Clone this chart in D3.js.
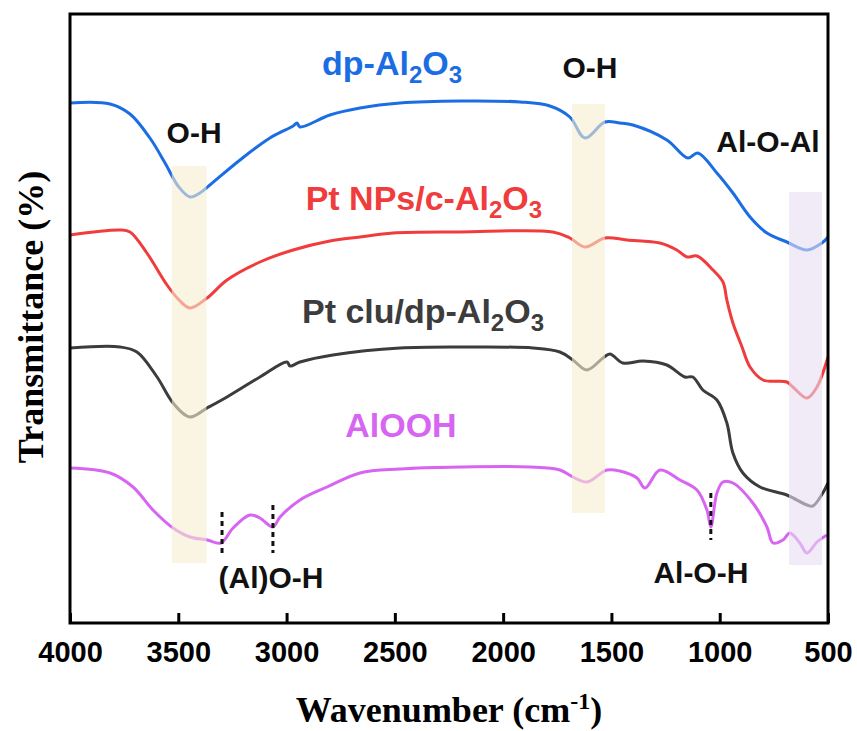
<!DOCTYPE html>
<html>
<head>
<meta charset="utf-8">
<script src="https://cdnjs.cloudflare.com/ajax/libs/d3/7.8.5/d3.min.js"></script>
<style>
  body { margin: 0; background: #fff; }
  svg { display: block; }
</style>
</head>
<body>
<svg id="chart" width="857" height="731"></svg>
<script>
// wavenumber (cm-1) and transmittance (a.u.)
var blueWn = [4000,3815,3723,3631,3561,3501,3446,3400,3354,3215,3077,2970,2952,2938,2800,2661,2476,2199,1922,1784,1692,1622,1530,1461,1401,1244,1147,1101,1013,939,860,782,690,597,528,500];
var blueT  = [52.0,51.9,50.9,48.5,46.0,43.7,42.6,43.0,43.8,46.3,48.5,49.7,50.0,49.6,50.8,51.5,52.0,52.2,52.1,51.7,50.6,48.5,50.1,50.0,49.8,48.3,46.5,47.0,45.0,43.0,40.6,39.0,38.1,37.3,38.0,38.6];

var redWn = [4000,3769,3723,3645,3552,3492,3446,3367,3275,3123,2970,2800,2661,2509,2199,1770,1692,1622,1530,1428,1276,1198,1151,1105,1031,985,967,939,897,860,800,690,662,597,551,500];
var redT  = [38.8,39.3,39.1,37.0,33.8,32.2,31.5,32.5,34.3,36.1,37.3,38.2,38.6,39.0,39.1,39.1,38.5,37.6,38.5,38.3,38.0,37.3,36.6,36.7,35.3,34.1,32.3,30.0,27.6,25.6,24.3,24.1,23.6,22.5,23.6,26.6];

var grayWn = [4000,3769,3691,3598,3524,3446,3367,3275,3123,2998,2984,2938,2786,2476,2167,1862,1738,1678,1613,1539,1507,1447,1354,1244,1161,1124,1078,1013,967,939,893,814,690,597,570,524,500];
var grayT  = [27.5,27.6,27.1,24.6,22.0,20.6,21.5,22.6,24.6,26.1,25.7,26.1,26.8,27.5,27.6,27.5,27.1,26.3,25.3,26.5,26.9,26.0,26.2,25.8,24.6,24.6,23.3,22.3,20.0,17.0,15.0,13.6,12.8,11.8,11.7,13.0,14.0];

var pinkWn = [4000,3815,3709,3617,3524,3446,3367,3303,3247,3169,3123,3063,3030,2938,2813,2661,2476,2199,1876,1738,1678,1613,1521,1461,1382,1345,1276,1184,1105,1059,1041,1013,985,939,847,782,754,708,676,630,597,551,505];
var pinkT  = [15.5,15.0,13.6,11.3,9.5,8.6,8.3,8.0,9.5,10.8,10.5,9.6,10.6,12.3,13.6,15.0,15.4,15.6,15.6,15.3,14.6,14.1,15.3,15.2,14.5,13.5,15.3,14.3,13.3,11.3,9.6,13.0,14.1,14.0,12.0,9.6,8.0,8.3,9.0,8.0,7.0,8.1,8.8];

var xTicks = [4000,3500,3000,2500,2000,1500,1000,500];

// highlighted bands
var bandFrom = [3530,1682,680];
var bandTo   = [3370,1530,528];
var bandTop  = [45.7,51.9,43.1];
var bandBot  = [6.0,11.0,5.8];
var bandKind = ["oh","oh","al"];

// dashed markers
var markWn  = [3298,3063,1041];
var markTop = [11.1,11.8,13.0];
var markBot = [6.6,7.0,8.3];

// annotations
var noteText = ["O-H","O-H","Al-O-Al","(Al)O-H","Al-O-H"];
var noteWn   = [3427,1599,777,3072,1087];
var noteT    = [48.0,54.5,47.1,3.5,4.0];

var seriesMain = ["dp-Al","Pt NPs/c-Al","Pt clu/dp-Al","AlOOH"];
var seriesSub  = [true,true,true,false];
var seriesWn   = [2513,2366,2370,2472];
var seriesT    = [54.8,41.3,30.0,18.6];
var seriesCol  = ["#1b6de3","#f03c3c","#3c3c3c","#d865f2"];

var svg = d3.select("#chart");

var mLeft = 70, mRight = 828, mTop = 14, mBottom = 623;

var x = d3.scaleLinear()
    .domain([4000, 500])
    .range([mLeft, mRight]);

var y = d3.scaleLinear()
    .domain([0, 60.9])
    .range([mBottom, mTop]);

var line = d3.line()
    .x(d => x(d[0]))
    .y(d => y(d[1]))
    .curve(d3.curveCatmullRom.alpha(0.5));

var curves = [
    d3.zip(blueWn, blueT),
    d3.zip(redWn, redT),
    d3.zip(grayWn, grayT),
    d3.zip(pinkWn, pinkT)
];

svg.selectAll(".curve")
    .data(curves)
    .enter()
    .append("path")
    .attr("class", "curve")
    .attr("d", line)
    .attr("fill", "none")
    .attr("stroke", (d, i) => seriesCol[i])
    .attr("stroke-width", 3)
    .attr("stroke-linejoin", "round");

// bands sit on top of the curves, half see-through
svg.selectAll(".band")
    .data(bandFrom)
    .enter()
    .append("rect")
    .attr("class", "band")
    .attr("x", (d, i) => x(d))
    .attr("width", (d, i) => x(bandTo[i]) - x(d))
    .attr("y", (d, i) => y(bandTop[i]))
    .attr("height", (d, i) => y(bandBot[i]) - y(bandTop[i]))
    .attr("fill", (d, i) => bandKind[i] == "oh" ? "#f7ecd0" : "#e6def2")
    .attr("opacity", 0.6);

svg.selectAll(".mark")
    .data(markWn)
    .enter()
    .append("line")
    .attr("class", "mark")
    .attr("x1", d => x(d))
    .attr("x2", d => x(d))
    .attr("y1", (d, i) => y(markTop[i]))
    .attr("y2", (d, i) => y(markBot[i]))
    .attr("stroke", "#111")
    .attr("stroke-width", 3)
    .attr("stroke-dasharray", "5,4");

svg.selectAll(".note")
    .data(noteText)
    .enter()
    .append("text")
    .attr("class", "note")
    .attr("x", (d, i) => x(noteWn[i]))
    .attr("y", (d, i) => y(noteT[i]))
    .attr("text-anchor", "middle")
    .style("font-family", "Liberation Sans, Arial, sans-serif")
    .style("font-weight", "bold")
    .style("font-size", "30px")
    .attr("fill", "#111")
    .text(d => d);

seriesMain.forEach(function(name, i) {
    var t = svg.append("text")
        .attr("x", x(seriesWn[i]))
        .attr("y", y(seriesT[i]))
        .attr("text-anchor", "middle")
        .style("font-family", "Liberation Sans, Arial, sans-serif")
        .style("font-weight", "bold")
        .style("font-size", "34px")
        .attr("fill", seriesCol[i]);
    t.append("tspan").text(name);
    if (seriesSub[i]) {
        t.append("tspan").text("2").style("font-size", "24px").attr("dy", 8);
        t.append("tspan").text("O").attr("dy", -8);
        t.append("tspan").text("3").style("font-size", "24px").attr("dy", 8);
    }
});

// frame
svg.append("rect")
    .attr("x", mLeft)
    .attr("y", mTop)
    .attr("width", mRight - mLeft)
    .attr("height", mBottom - mTop)
    .attr("fill", "none")
    .attr("stroke", "#000")
    .attr("stroke-width", 3);

var ax = d3.axisBottom(x)
    .tickValues(xTicks)
    .tickSize(-10)
    .tickPadding(18)
    .tickFormat(d3.format("d"));

var g = svg.append("g")
    .attr("transform", "translate(0," + mBottom + ")")
    .call(ax);
g.select(".domain").remove();
g.selectAll(".tick line").attr("stroke", "#000").attr("stroke-width", 3);
g.selectAll(".tick text")
    .style("font-family", "Liberation Sans, Arial, sans-serif")
    .style("font-weight", "bold")
    .style("font-size", "29px")
    .attr("fill", "#000");

var xl = svg.append("text")
    .attr("x", (mLeft + mRight) / 2)
    .attr("y", 722)
    .attr("text-anchor", "middle")
    .style("font-family", "Liberation Serif, Times New Roman, serif")
    .style("font-weight", "bold")
    .style("font-size", "36px");
xl.append("tspan").text("Wavenumber (cm");
xl.append("tspan").text("-1").style("font-size", "24px").attr("dy", -13);
xl.append("tspan").text(")").attr("dy", 13);

svg.append("text")
    .attr("transform", "translate(43,317) rotate(-90)")
    .attr("text-anchor", "middle")
    .style("font-family", "Liberation Serif, Times New Roman, serif")
    .style("font-weight", "bold")
    .style("font-size", "36px")
    .text("Transmittance (%)");
</script>
</body>
</html>
